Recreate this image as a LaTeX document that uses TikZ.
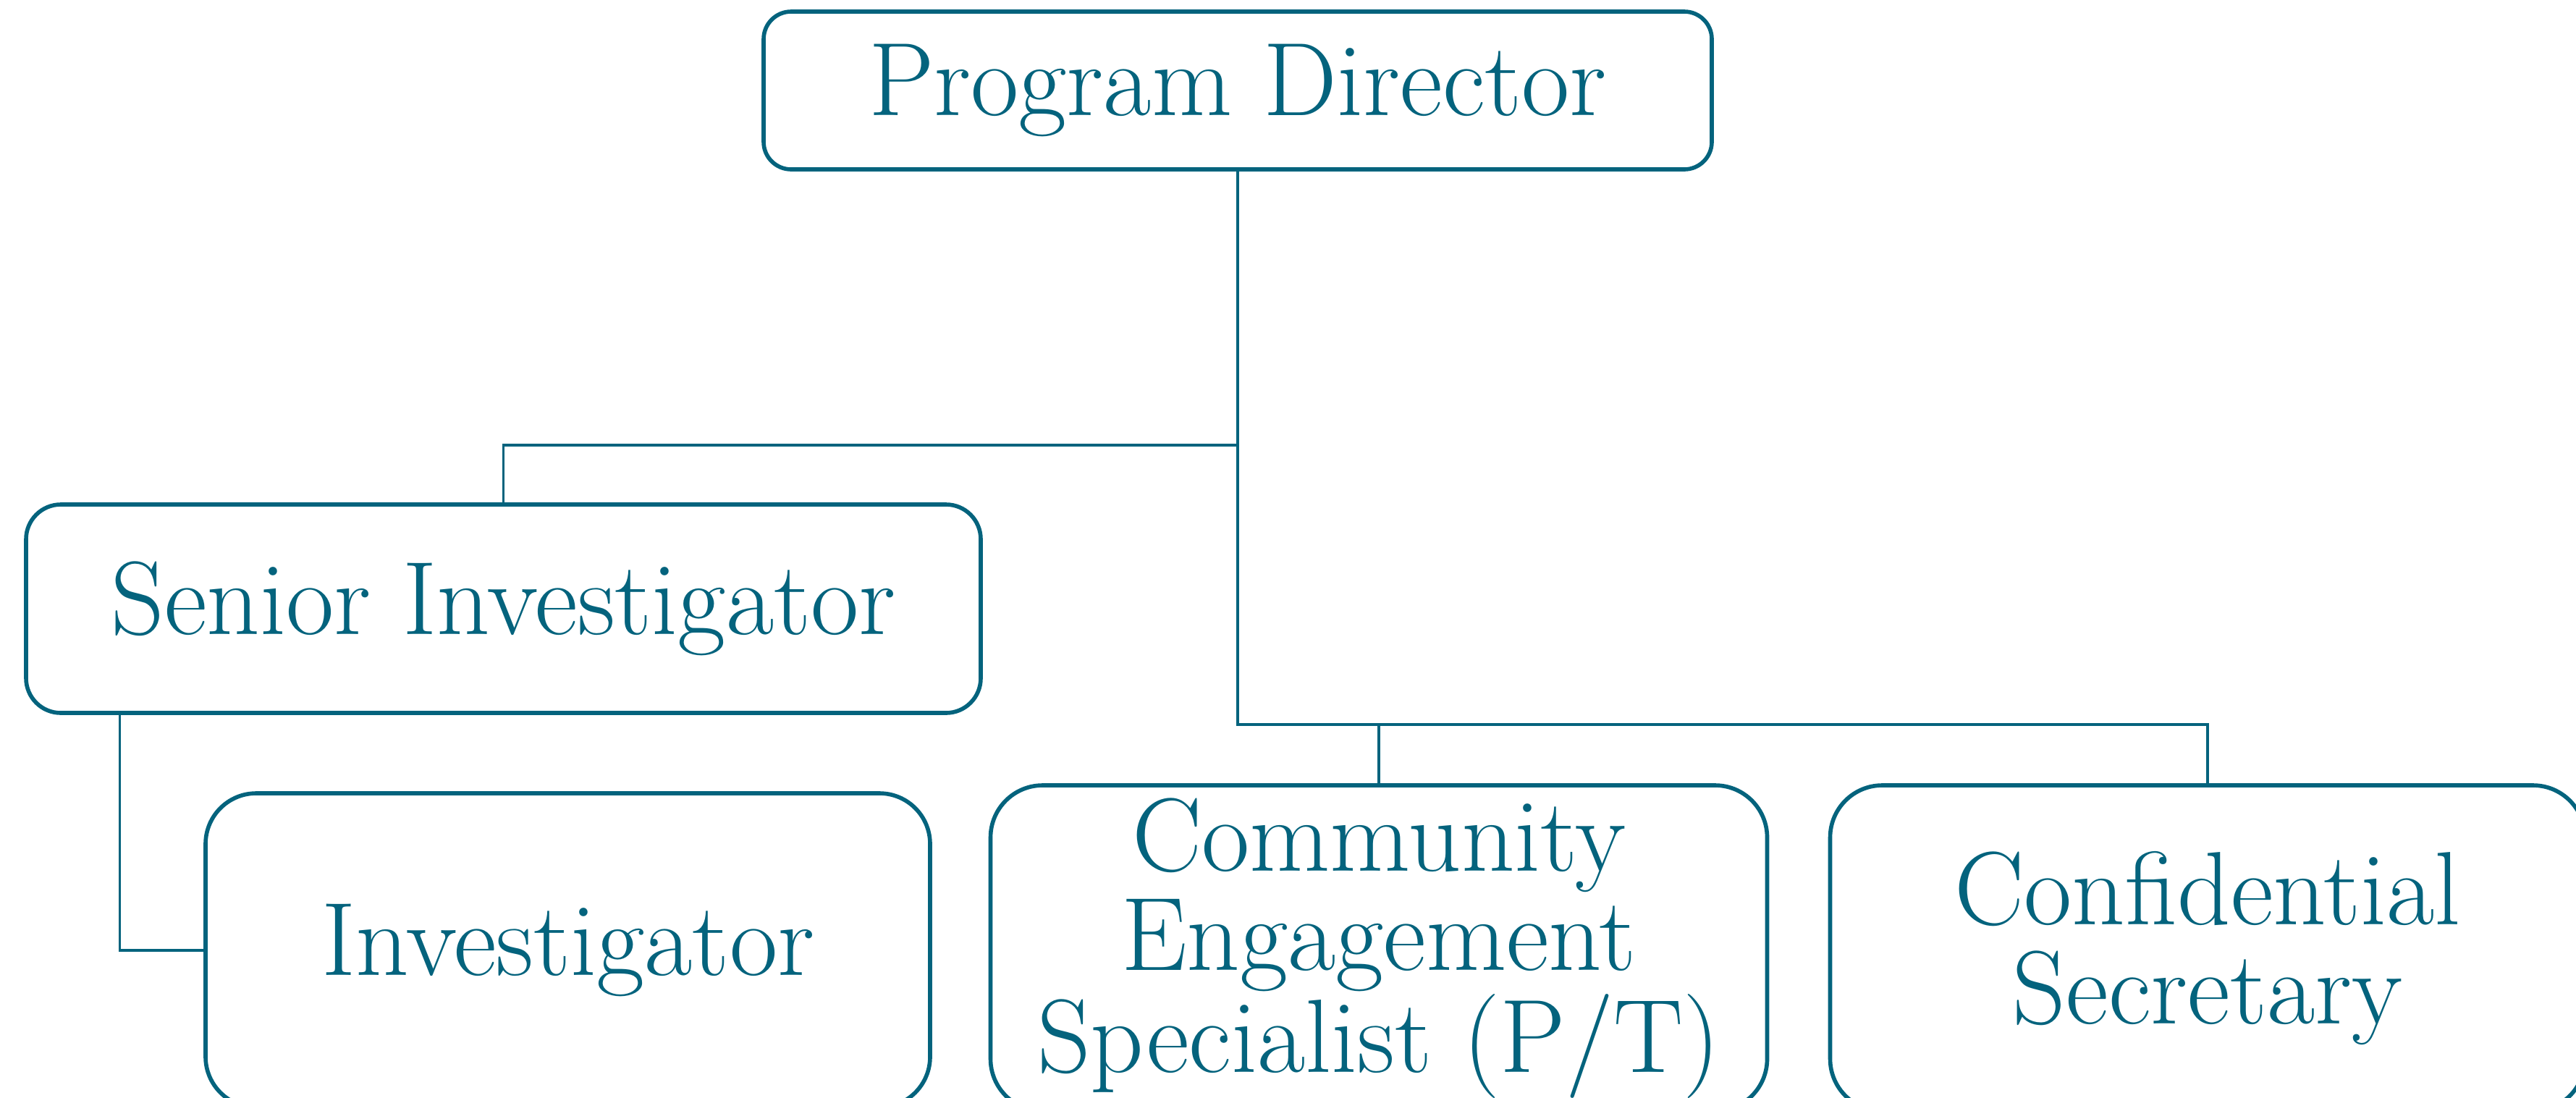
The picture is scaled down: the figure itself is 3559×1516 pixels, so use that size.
\documentclass[tikz,border=0pt]{standalone}
\usetikzlibrary{positioning}
\definecolor{teal}{RGB}{4,99,125}

\begin{document}
\begin{tikzpicture}[x=0.1mm,y=-0.1mm,
  orgbox/.style={draw=teal,line width=1.6pt,fill=white,text=teal,align=center,
    font=\fontsize{41}{39}\selectfont,inner sep=0pt},
  link/.style={draw=teal,line width=0.9pt}]
\useasboundingbox[fill=white] (0,0) rectangle (3559,1516);

\node[orgbox,minimum width=13.1cm,minimum height=2.18cm,rounded corners=0.38cm] (pd) at (1710,125) {Program Director};
\node[orgbox,minimum width=13.19cm,minimum height=2.88cm,rounded corners=0.48cm] (si) at (695.5,841) {Senior Investigator};
\node[orgbox,minimum width=10.01cm,minimum height=4.34cm,rounded corners=0.7cm] (inv) at (784.5,1313) {Investigator};
\node[orgbox,minimum width=10.73cm,minimum height=4.5cm,rounded corners=0.72cm] (ces) at (1905,1310) {Community\\Engagement\\Specialist (P/T)};
\node[orgbox,minimum width=10.43cm,minimum height=4.5cm,rounded corners=0.72cm] (cs) at (3050,1310) {Confidential\\Secretary};

\coordinate (j1) at (1710,615);
\coordinate (j2) at (1710,1001);

\draw[link] (pd.south) -- (j2) -- (j2 -| cs.north) -- (cs.north);
\draw[link] (j2 -| ces.north) -- (ces.north);
\draw[link] (j1) -- (j1 -| si.north) -- (si.north);
\draw[link] ([xshift=1.32cm]si.south west) |- (inv.west);
\end{tikzpicture}
\end{document}
